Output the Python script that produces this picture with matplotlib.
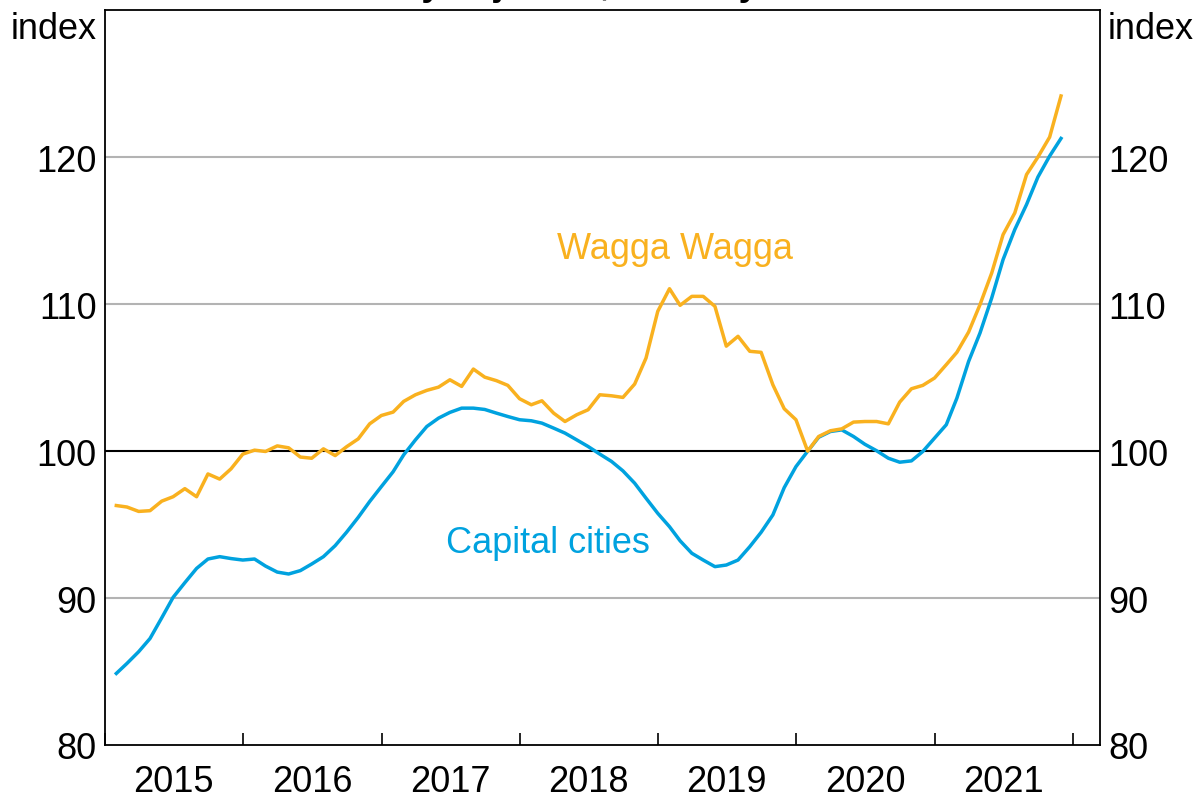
import matplotlib
matplotlib.use("Agg")
import matplotlib.pyplot as plt
import matplotlib.dates as mdates
import pandas as pd

# Housing prices, monthly index, January 2020 = 100
months = pd.date_range("2015-01-31", periods=83, freq="ME")

wagga = [96.3, 96.2, 95.9, 95.95, 96.6, 96.9, 97.45, 96.9, 98.45, 98.1,
         98.8, 99.8, 100.07, 99.98, 100.36, 100.23, 99.6, 99.52, 100.16, 99.7,
         100.3, 100.84, 101.86, 102.43, 102.66, 103.39, 103.84, 104.14, 104.36, 104.86,
         104.41, 105.59, 105.04, 104.8, 104.48, 103.57, 103.16, 103.43, 102.59, 102.02,
         102.48, 102.82, 103.84, 103.77, 103.66, 104.57, 106.34, 109.52, 111.06, 109.93,
         110.54, 110.54, 109.86, 107.15, 107.82, 106.8, 106.73, 104.52, 102.89, 102.14,
         100.0, 101.0, 101.39, 101.52, 101.98, 102.02, 102.02, 101.86, 103.34, 104.25,
         104.48, 104.98, 105.89, 106.73, 108.11, 109.97, 112.13, 114.74, 116.22, 118.83,
         120.02, 121.38, 124.18]

capitals = [84.87, 85.55, 86.35, 87.25, 88.66, 90.05, 91.05, 92.02, 92.66, 92.82,
            92.69, 92.59, 92.66, 92.18, 91.77, 91.64, 91.87, 92.32, 92.82, 93.57,
            94.48, 95.5, 96.57, 97.59, 98.6, 99.75, 100.77, 101.68, 102.25, 102.64,
            102.93, 102.93, 102.84, 102.59, 102.36, 102.14, 102.07, 101.91, 101.57, 101.23,
            100.77, 100.32, 99.8, 99.3, 98.66, 97.82, 96.8, 95.77, 94.86, 93.9,
            93.05, 92.59, 92.14, 92.25, 92.59, 93.5, 94.48, 95.66, 97.52, 98.95,
            100.0, 100.95, 101.34, 101.45, 101.0, 100.47, 100.03, 99.52, 99.25, 99.34,
            99.98, 100.89, 101.8, 103.61, 106.11, 108.04, 110.43, 113.04, 115.09, 116.79,
            118.66, 120.09, 121.29]

yticks = [80, 90, 100, 110, 120]
orange = "#F9B11F"
blue = "#00A2DF"

plt.rcParams["font.family"] = ["Liberation Sans", "DejaVu Sans"]

fig = plt.figure(figsize=(12.01, 8.03), dpi=100)
ax = fig.add_axes([0.0874, 0.071, 0.8285, 0.9147])

for y in [90, 110, 120]:
    ax.axhline(y, color="#B3B3B3", lw=1.5, zorder=1)
ax.axhline(100, color="black", lw=1.5, zorder=1)

ax.plot(months, capitals, color=blue, lw=2.5, zorder=3)
ax.plot(months, wagga, color=orange, lw=2.5, zorder=4)

ax.text(pd.Timestamp("2019-02-15"), 113.8, "Wagga Wagga", color=orange,
        fontsize=26, ha="center", va="center")
ax.text(pd.Timestamp("2018-03-15"), 93.8, "Capital cities", color=blue,
        fontsize=26, ha="center", va="center")

ax.set_ylim(80, 130)
ax.set_xlim(pd.Timestamp("2015-01-01"), pd.Timestamp("2022-03-13"))
ax.set_yticks(yticks)
ax.tick_params(axis="y", length=0, labelsize=26, pad=6,
               labelleft=True, labelright=True)

# year boundaries as ticks, year names centred between them
ax.xaxis.set_major_locator(mdates.YearLocator())
ax.xaxis.set_major_formatter(plt.NullFormatter())
ax.xaxis.set_minor_locator(mdates.YearLocator(month=7, day=1))
ax.xaxis.set_minor_formatter(mdates.DateFormatter("%Y"))
ax.tick_params(axis="x", which="major", direction="in", length=9, width=1.2)
ax.tick_params(axis="x", which="minor", length=0, labelsize=26, pad=14)

for s in ax.spines.values():
    s.set_linewidth(1.3)

ax.text(-0.008, 0.975, "index", transform=ax.transAxes, fontsize=26,
        ha="right", va="center")
ax.text(1.008, 0.975, "index", transform=ax.transAxes, fontsize=26,
        ha="left", va="center")

# title sits mostly above the frame, only descenders show
fig.text(0.5015, 1.0065, "Seasonally adjusted, January 2020 = 100",
         fontsize=26, fontweight="bold", ha="center", va="baseline")

fig.savefig("out.png", dpi=100)
